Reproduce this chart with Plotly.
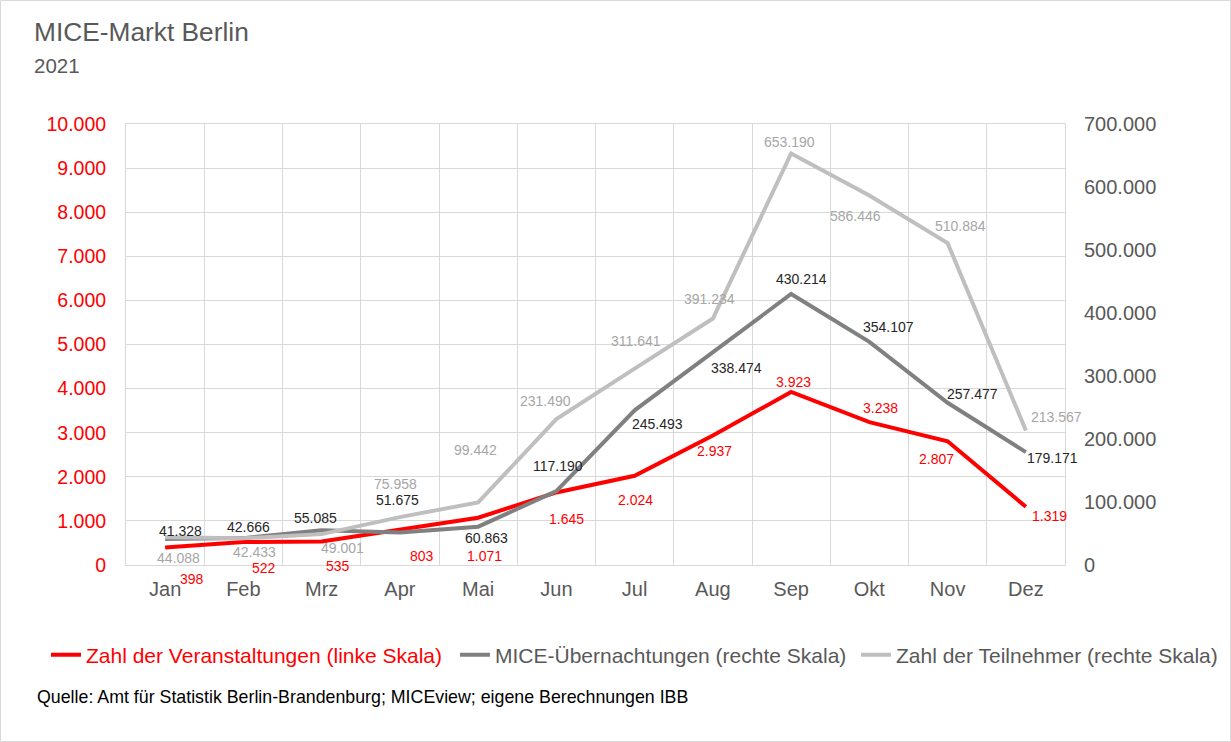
import plotly.graph_objects as go

months = ["Jan", "Feb", "Mrz", "Apr", "Mai", "Jun", "Jul", "Aug", "Sep", "Okt", "Nov", "Dez"]
veranstaltungen = [398, 522, 535, 803, 1071, 1645, 2024, 2937, 3923, 3238, 2807, 1319]
uebernachtungen = [41328, 42666, 55085, 51675, 60863, 117190, 245493, 338474, 430214, 354107, 257477, 179171]
teilnehmer = [44088, 42433, 49001, 75958, 99442, 231490, 311641, 391234, 653190, 586446, 510884, 213567]

left_ticks = list(range(0, 10001, 1000))
right_ticks = list(range(0, 700001, 100000))

# label offsets in pixels (dx right, dy down) relative to the data point
off_red = [(27, 32), (21, 26), (16, 25), (22, 26), (6, 38), (10, 27),
           (1, 24), (2, 16), (2, -10), (11, -14), (-11, 18), (24, 9)]
off_dark = [(15, -8), (5, -11), (-6, -12), (-2, -32), (8, 11), (2, -25),
            (23, 14), (24, 16), (10, -15), (19, -15), (25, -9), (27, 6)]
off_light = [(13, 21), (11, 14), (21, 14), (-4, -33), (-3, -52), (-11, -18),
             (1, -28), (-3, -20), (-2, -11), (-14, 20), (13, -17), (31, -13)]

W, H = 1231, 742
L, R, T, B = 126, 166, 124, 177
PW, PH = W - L - R, H - T - B

def px(x):
    return (x - L) / PW

def py(y):
    return (H - B - y) / PH

def fmt(v):
    return f"{v:,}".replace(",", ".")

x = list(range(len(months)))
font = "Liberation Sans, Arial, sans-serif"

fig = go.Figure()
fig.add_trace(go.Scatter(
    x=x, y=uebernachtungen, mode="lines", name="MICE-Übernachtungen (rechte Skala)",
    line=dict(color="#808080", width=4), yaxis="y2", legend="legend2"))
fig.add_trace(go.Scatter(
    x=x, y=teilnehmer, mode="lines", name="Zahl der Teilnehmer (rechte Skala)",
    line=dict(color="#BFBFBF", width=4), yaxis="y2", legend="legend3"))
fig.add_trace(go.Scatter(
    x=x, y=veranstaltungen, mode="lines", name="Zahl der Veranstaltungen (linke Skala)",
    line=dict(color="#FF0000", width=4), yaxis="y", legend="legend"))

annotations = []
for vals, offs, yref, color in [(veranstaltungen, off_red, "y", "#FF0000"),
                                 (uebernachtungen, off_dark, "y2", "#262626"),
                                 (teilnehmer, off_light, "y2", "#A6A6A6")]:
    for i, v in enumerate(vals):
        annotations.append(dict(x=x[i], y=v, xref="x", yref=yref, text=fmt(v), showarrow=False,
                                xshift=offs[i][0], yshift=-offs[i][1],
                                font=dict(size=14, color=color, family=font)))

annotations += [
    dict(text="MICE-Markt Berlin", x=px(32), y=py(32), xref="paper", yref="paper", xanchor="left",
         yanchor="middle", showarrow=False, font=dict(size=26.3, color="#595959", family=font)),
    dict(text="2021", x=px(32), y=py(65), xref="paper", yref="paper", xanchor="left",
         yanchor="middle", showarrow=False, font=dict(size=20.5, color="#595959", family=font)),
    dict(text="Quelle: Amt für Statistik Berlin-Brandenburg; MICEview; eigene Berechnungen IBB",
         x=px(35), y=py(697), xref="paper", yref="paper", xanchor="left", yanchor="middle",
         showarrow=False, font=dict(size=17.8, color="#000000", family=font)),
]

def leg(xpix, color):
    return dict(orientation="h", xref="container", yref="container", x=xpix / W, xanchor="left",
                y=1 - 655 / H, yanchor="middle", font=dict(size=21, color=color, family=font),
                bgcolor="rgba(0,0,0,0)", itemwidth=30)

fig.update_layout(
    width=W, height=H, autosize=False,
    paper_bgcolor="white", plot_bgcolor="white",
    margin=dict(l=L, r=R, t=T, b=B),
    font=dict(family=font, color="#595959"),
    showlegend=True,
    legend=leg(46, "#FF0000"),
    legend2=leg(455, "#595959"),
    legend3=leg(856, "#595959"),
    xaxis=dict(range=[-0.5, 11.5], tickvals=x, ticktext=months, showgrid=False, zeroline=False,
               showline=True, linecolor="#D9D9D9", linewidth=1, mirror=True,
               tickfont=dict(size=20, color="#595959"), ticks="", ticklabelstandoff=6,
               minor=dict(tickvals=[i - 0.5 for i in range(13)], showgrid=True, gridcolor="#D9D9D9", gridwidth=1)),
    yaxis=dict(range=[0, 10000], tickvals=left_ticks, ticktext=[fmt(v) for v in left_ticks],
               showgrid=True, gridcolor="#D9D9D9", gridwidth=1, zeroline=False,
               showline=True, linecolor="#D9D9D9", mirror=True,
               tickfont=dict(size=19.5, color="#FF0000"), ticks="", ticklabelstandoff=15),
    yaxis2=dict(range=[0, 700000], tickvals=right_ticks, ticktext=[fmt(v) for v in right_ticks],
                overlaying="y", side="right", showgrid=False, zeroline=False,
                tickfont=dict(size=20, color="#595959"), ticks="", ticklabelstandoff=18),
    annotations=annotations,
    shapes=[dict(type="rect", xref="paper", yref="paper", x0=px(0.5), x1=px(W - 0.5), y0=py(H - 0.5), y1=py(0.5),
                 line=dict(color="#D9D9D9", width=1), layer="below")],
)

fig.write_html("out.html", config={"displayModeBar": False},
               post_script="document.body.style.margin='0';document.body.style.overflow='hidden';")
